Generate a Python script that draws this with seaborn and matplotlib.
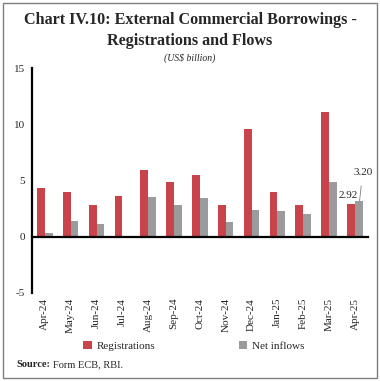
#!/usr/bin/env python3
# -*- coding: utf-8 -*-

"""Chart IV.10: External Commercial Borrowings - Registrations and Flows."""

import pandas as pd
import matplotlib
matplotlib.use('Agg')
import matplotlib.pyplot as plt
import matplotlib.patches as patches
from matplotlib.ticker import FixedLocator
import seaborn as sns

# Data (US$ billion)
months = ['Apr-24', 'May-24', 'Jun-24', 'Jul-24', 'Aug-24', 'Sep-24', 'Oct-24',
          'Nov-24', 'Dec-24', 'Jan-25', 'Feb-25', 'Mar-25', 'Apr-25']
registrations = [4.3, 4.0, 2.8, 3.6, 5.9, 4.85, 5.5, 2.8, 9.55, 4.0, 2.8, 11.05, 2.92]
net_inflows = [0.3, 1.4, 1.1, 0.0, 3.5, 2.8, 3.4, 1.3, 2.4, 2.26, 2.0, 4.9, 3.20]
y_ticks = [-5, 0, 5, 10, 15]

RED = '#C8434A'
GREY = '#9B9B9D'

df = pd.DataFrame({'month': months,
                   'Registrations': registrations,
                   'Net inflows': net_inflows})
long_df = df.melt(id_vars='month', var_name='series', value_name='value')

sns.set_style('white')
plt.rcParams['font.family'] = ['Liberation Serif', 'DejaVu Serif']
plt.rcParams['axes.unicode_minus'] = False

fig = plt.figure(figsize=(3.80, 3.81), dpi=100)
ax = fig.add_axes([0.084, 0.231, 0.884, 0.5905])

sns.barplot(data=long_df, x='month', y='value', hue='series',
            palette=[RED, GREY], width=0.6, saturation=1,
            edgecolor='none', legend=True, ax=ax)

ax.set_ylim(-5, 15)
ax.set_xlim(-0.5, len(months) - 0.5)
ax.set_yticks(y_ticks)
ax.set_xlabel('')
ax.set_ylabel('')

# Spines: y-axis on the left, x-axis line at zero
for side in ['top', 'right']:
    ax.spines[side].set_visible(False)
ax.spines['left'].set_linewidth(1.6)
ax.spines['left'].set_color('black')
ax.spines['bottom'].set_position(('data', 0))
ax.spines['bottom'].set_linewidth(1.6)
ax.spines['bottom'].set_color('black')

ax.tick_params(axis='y', length=3, width=1, labelsize=8, pad=2)
ax.tick_params(axis='x', which='major', length=0, labelsize=8, pad=44,
               labelrotation=90)
ax.xaxis.set_minor_locator(FixedLocator([i + 0.5 for i in range(len(months))]))
ax.tick_params(axis='x', which='minor', length=3, width=1, direction='out')

# Labels for the latest month
ax.text(11.74, 3.66, '2.92', ha='center', va='center', fontsize=8)
ax.annotate('3.20', xy=(12.18, 3.2), xytext=(12.3, 5.7),
            ha='center', va='center', fontsize=8,
            arrowprops=dict(arrowstyle='-', color='#808080', lw=0.6,
                            shrinkA=4, shrinkB=0))

# Legend at the bottom
handles, labels = ax.get_legend_handles_labels()
ax.get_legend().remove()
fig.legend(handles, labels, loc='center', bbox_to_anchor=(0.51, 0.092),
           ncol=2, frameon=False, fontsize=8, handlelength=0.8,
           handleheight=0.8, handletextpad=0.4, columnspacing=7.5)

# Title, unit and source
fig.text(0.5, 0.947, 'Chart IV.10: External Commercial Borrowings -',
         ha='center', va='center', fontsize=11.6, fontweight='bold')
fig.text(0.5, 0.893, 'Registrations and Flows',
         ha='center', va='center', fontsize=11.6, fontweight='bold')
fig.text(0.5, 0.848, '(US$ billion)', ha='center', va='center',
         fontsize=7, style='italic')
src = fig.text(0.042, 0.042, 'Source:', ha='left', va='center',
               fontsize=7.5, fontweight='bold')
ax.annotate('Form ECB, RBI.', xy=(1, 0.5), xycoords=src,
            xytext=(2.5, 0), textcoords='offset points',
            ha='left', va='center', fontsize=7.5, annotation_clip=False)

# Frame around the whole chart
fig.patches.append(patches.Rectangle((0.008, 0.008), 0.984, 0.984,
                                     transform=fig.transFigure, fill=False,
                                     edgecolor='#7F7F7F', lw=1))

fig.savefig('out.png', dpi=100)
